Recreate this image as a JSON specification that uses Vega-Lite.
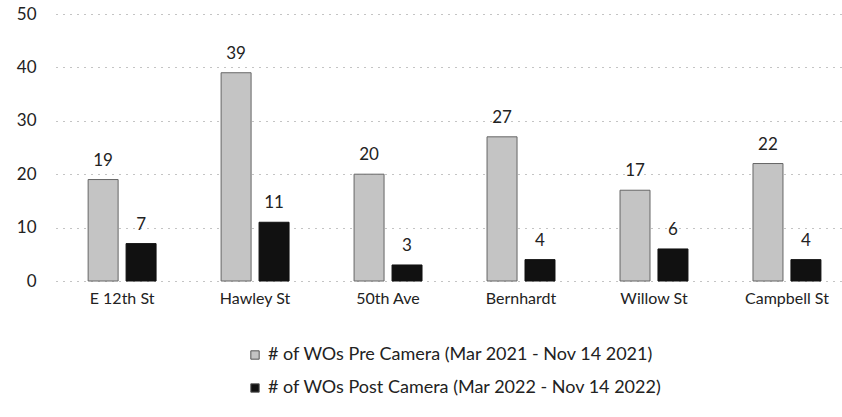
{
  "$schema": "https://vega.github.io/schema/vega-lite/v6.json",
  "autosize": "none",
  "width": 786,
  "height": 267,
  "padding": {"left": 56, "top": 14, "right": 0, "bottom": 136},
  "background": "white",
  "config": {
    "font": "Lato",
    "view": {"stroke": null},
    "axis": {"labelFont": "Lato", "labelColor": "#222", "labelFontSize": 17},
    "legend": {"labelFont": "Lato", "labelFontSize": 18, "labelColor": "#222"}
  },
  "data": {
    "values": [
      {"street": "E 12th St", "series": "# of WOs Pre Camera (Mar 2021 - Nov 14 2021)", "wos": 19},
      {"street": "E 12th St", "series": "# of WOs Post Camera (Mar 2022 - Nov 14 2022)", "wos": 7},
      {"street": "Hawley St", "series": "# of WOs Pre Camera (Mar 2021 - Nov 14 2021)", "wos": 39},
      {"street": "Hawley St", "series": "# of WOs Post Camera (Mar 2022 - Nov 14 2022)", "wos": 11},
      {"street": "50th Ave", "series": "# of WOs Pre Camera (Mar 2021 - Nov 14 2021)", "wos": 20},
      {"street": "50th Ave", "series": "# of WOs Post Camera (Mar 2022 - Nov 14 2022)", "wos": 3},
      {"street": "Bernhardt", "series": "# of WOs Pre Camera (Mar 2021 - Nov 14 2021)", "wos": 27},
      {"street": "Bernhardt", "series": "# of WOs Post Camera (Mar 2022 - Nov 14 2022)", "wos": 4},
      {"street": "Willow St", "series": "# of WOs Pre Camera (Mar 2021 - Nov 14 2021)", "wos": 17},
      {"street": "Willow St", "series": "# of WOs Post Camera (Mar 2022 - Nov 14 2022)", "wos": 6},
      {"street": "Campbell St", "series": "# of WOs Pre Camera (Mar 2021 - Nov 14 2021)", "wos": 22},
      {"street": "Campbell St", "series": "# of WOs Post Camera (Mar 2022 - Nov 14 2022)", "wos": 4}
    ]
  },
  "encoding": {
    "x": {
      "field": "street", "type": "nominal", "sort": null,
      "scale": {"paddingInner": 0.489, "paddingOuter": 0.2, "align": 0.604},
      "axis": {"title": null, "labelAngle": 0, "domain": false, "ticks": false, "labelPadding": 9, "grid": false, "labelFontSize": 16}
    },
    "xOffset": {
      "field": "series", "type": "nominal",
      "sort": ["# of WOs Pre Camera (Mar 2021 - Nov 14 2021)", "# of WOs Post Camera (Mar 2022 - Nov 14 2022)"],
      "scale": {"paddingInner": 0.21, "paddingOuter": 0}
    },
    "y": {
      "field": "wos", "type": "quantitative",
      "scale": {"domain": [0, 50], "nice": false},
      "axis": {"title": null, "values": [0, 10, 20, 30, 40, 50], "domain": false, "ticks": false, "labelPadding": 20,
               "grid": true, "gridColor": "#888", "gridDash": [1, 6], "gridWidth": 1}
    }
  },
  "layer": [
    {
      "mark": {"type": "bar", "strokeWidth": 1},
      "encoding": {
        "color": {
          "field": "series", "type": "nominal",
          "sort": ["# of WOs Pre Camera (Mar 2021 - Nov 14 2021)", "# of WOs Post Camera (Mar 2022 - Nov 14 2022)"],
          "scale": {"range": ["#c4c4c4", "#111111"]},
          "legend": {"title": null, "orient": "none", "legendX": 190, "legendY": 332, "direction": "vertical",
                     "symbolType": "square", "symbolSize": 70, "rowPadding": 15, "labelOffset": 4, "labelLimit": 0,
                     "symbolStrokeColor": "#555", "symbolStrokeWidth": 1}
        },
        "stroke": {
          "field": "series", "type": "nominal",
          "sort": ["# of WOs Pre Camera (Mar 2021 - Nov 14 2021)", "# of WOs Post Camera (Mar 2022 - Nov 14 2022)"],
          "scale": {"range": ["#666666", "#111111"]},
          "legend": null
        }
      }
    },
    {
      "mark": {"type": "text", "baseline": "bottom", "dy": -10, "fontSize": 17, "color": "#222", "font": "Lato"},
      "encoding": {"text": {"field": "wos", "type": "quantitative"}}
    }
  ]
}
